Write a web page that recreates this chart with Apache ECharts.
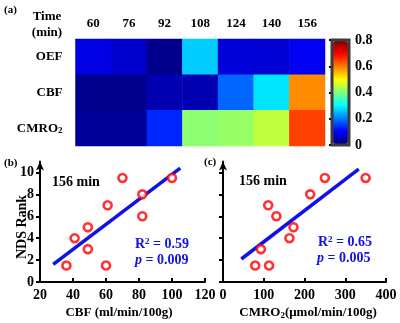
<!DOCTYPE html>
<html>
<head>
<meta charset="utf-8">
<script src="https://cdn.jsdelivr.net/npm/echarts@6/dist/echarts.min.js"></script>
<style>
  html, body { margin: 0; padding: 0; background: #fff; }
  #main { width: 400px; height: 323px; }
</style>
</head>
<body>
<div id="main"></div>
<script>
  // heatmap (a)
  var times = ['60', '76', '92', '108', '124', '140', '156'];
  var rowNames = ['OEF', 'CBF', 'CMRO2'];
  var oefVals = [0.08, 0.06, 0.01, 0.26, 0.07, 0.065, 0.09];
  var cbfVals = [0.01, 0.01, 0.04, 0.04, 0.18, 0.28, 0.59];
  var cmroVals = [0.02, 0.02, 0.13, 0.41, 0.42, 0.45, 0.65];

  // scatter (b) and (c)
  var ndsRank = [1.5, 4, 5, 3, 1.5, 7, 9.5, 8, 6, 9.5];
  var cbfPts = [36, 41, 49, 49, 60, 61, 70, 82, 82, 100];
  var ndsRankC = [1.5, 1.5, 3, 7, 6, 4, 5, 8, 9.5, 9.5];
  var cmroPts = [79, 113, 93, 111, 131, 163, 173, 214, 250, 350];
  var cbfFit = [[28, 1.6], [105, 10.4]];
  var cmroFit = [[45, 2.1], [333, 10.3]];
  var rankTicks = [0, 2, 4, 6, 8, 10];

  var jet = ['#00007f', '#0000ff', '#007fff', '#00ffff', '#7fff7f', '#ffff00', '#ff7f00', '#ff0000', '#7f0000'];
  var font = 'Liberation Serif';
  var blue = '#1010e8';

  var heatData = [];
  [oefVals, cbfVals, cmroVals].forEach(function (row, r) {
    row.forEach(function (v, c) {
      heatData.push([c, r, v]);
    });
  });

  function zip(xs, ys) {
    return xs.map(function (x, i) { return [x, ys[i]]; });
  }

  var labelStyle = { fontFamily: font, fontWeight: 'bold', fontSize: 14, color: '#000' };

  function scatterX(idx, min, max, interval) {
    return {
      gridIndex: idx, type: 'value', min: min, max: max, interval: interval,
      axisLine: { lineStyle: { color: '#000', width: 2 } },
      axisTick: { inside: true, length: 4, lineStyle: { color: '#000', width: 2 } },
      axisLabel: Object.assign({ margin: 6 }, labelStyle),
      splitLine: { show: false }
    };
  }
  function scatterY(idx, showLabels) {
    return {
      gridIndex: idx, type: 'value', min: 0, max: 11,
      axisLine: { show: true, symbol: ['none', 'arrow'], symbolSize: [6, 9], lineStyle: { color: '#000', width: 2 } },
      axisTick: { length: 4, customValues: rankTicks, lineStyle: { color: '#000', width: 2 } },
      axisLabel: Object.assign({ show: showLabels, margin: 6, customValues: rankTicks }, labelStyle),
      splitLine: { show: false }
    };
  }

  var myChart = echarts.init(document.getElementById('main'), null, { renderer: 'canvas' });
  myChart.setOption({
    animation: false,
    grid: [
      { left: 75.5, top: 39, width: 249.5, height: 107 },
      { left: 332, top: 40, width: 17, height: 105 },
      { left: 40, top: 161.5, width: 165, height: 120.5 },
      { left: 223, top: 161.5, width: 163, height: 120.5 }
    ],
    xAxis: [
      {
        gridIndex: 0, type: 'category', data: times, position: 'top',
        axisLine: { show: false }, axisTick: { show: false },
        axisLabel: { margin: 9, fontFamily: font, fontWeight: 'bold', fontSize: 13, color: '#000' }
      },
      { gridIndex: 1, type: 'value', show: false },
      scatterX(2, 20, 120, 20),
      scatterX(3, 0, 400, 100)
    ],
    yAxis: [
      {
        gridIndex: 0, type: 'category', data: rowNames, inverse: true,
        axisLine: { show: false }, axisTick: { show: false },
        axisLabel: {
          margin: 13, fontFamily: font, fontWeight: 'bold', fontSize: 13, color: '#000',
          formatter: function (v) { return v === 'CMRO2' ? 'CMRO{s|2}' : v; },
          rich: { s: { fontFamily: font, fontWeight: 'bold', fontSize: 9, verticalAlign: 'bottom', padding: [6, 0, 0, 0] } }
        }
      },
      {
        gridIndex: 1, type: 'value', min: 0, max: 0.8, interval: 0.2, position: 'right',
        axisLine: { show: false },
        axisTick: { show: true, inside: true, length: 3, lineStyle: { color: '#000', width: 2 } },
        axisLabel: Object.assign({ margin: 6 }, labelStyle),
        splitLine: { show: false }
      },
      scatterY(2, true),
      scatterY(3, false)
    ],
    visualMap: {
      type: 'continuous', min: 0, max: 0.8, seriesIndex: 0, calculable: false,
      orient: 'vertical', left: 333, top: 41, itemWidth: 15, itemHeight: 103, padding: 0,
      inRange: { color: jet }
    },
    series: [
      {
        type: 'heatmap', xAxisIndex: 0, yAxisIndex: 0, data: heatData,
        emphasis: { disabled: true }
      },
      {
        type: 'line', xAxisIndex: 2, yAxisIndex: 2, data: cbfFit, showSymbol: false,
        lineStyle: { color: blue, width: 3.5 }, z: 2
      },
      {
        type: 'scatter', xAxisIndex: 2, yAxisIndex: 2, data: zip(cbfPts, ndsRank),
        symbolSize: 8, itemStyle: { color: '#fff', borderColor: '#f00', borderWidth: 2.6 }, z: 3
      },
      {
        type: 'line', xAxisIndex: 3, yAxisIndex: 3, data: cmroFit, showSymbol: false,
        lineStyle: { color: blue, width: 3.5 }, z: 2
      },
      {
        type: 'scatter', xAxisIndex: 3, yAxisIndex: 3, data: zip(cmroPts, ndsRankC),
        symbolSize: 8, itemStyle: { color: '#fff', borderColor: '#f00', borderWidth: 2.6 }, z: 3
      }
    ],
    graphic: [
      { type: 'rect', shape: { x: 332, y: 40, width: 17, height: 105 }, style: { fill: null, stroke: '#3c3c3c', lineWidth: 3 }, z: 10 },
      { type: 'text', x: 4, y: 5, style: { text: '(a)', font: 'bold 11px ' + font, fill: '#000' } },
      { type: 'text', x: 47, y: 9, style: { text: 'Time\n(min)', font: 'bold 13px ' + font, fill: '#000', align: 'center', lineHeight: 16 } },
      { type: 'text', x: 4, y: 158, style: { text: '(b)', font: 'bold 11px ' + font, fill: '#000' } },
      { type: 'text', x: 204, y: 157, style: { text: '(c)', font: 'bold 11px ' + font, fill: '#000' } },
      { type: 'text', x: 52, y: 175, style: { text: '156 min', font: 'bold 14px ' + font, fill: '#000' } },
      { type: 'text', x: 239, y: 174, style: { text: '156 min', font: 'bold 14px ' + font, fill: '#000' } },
      {
        type: 'text', x: 22, y: 227, rotation: Math.PI / 2,
        style: { text: 'NDS Rank', font: 'bold 14px ' + font, fill: '#000', align: 'center', verticalAlign: 'middle' }
      },
      { type: 'text', x: 119, y: 313, style: { text: 'CBF (ml/min/100g)', font: 'bold 13px ' + font, fill: '#000', align: 'center', verticalAlign: 'middle' } },
      {
        type: 'text', x: 308, y: 313,
        style: {
          text: 'CMRO{s|2}(μmol/min/100g)', font: 'bold 13px ' + font, fill: '#000', align: 'center', verticalAlign: 'middle',
          rich: { s: { font: 'bold 9px ' + font, fill: '#000', padding: [6, 0, 0, 0] } }
        }
      },
      {
        type: 'text', x: 135, y: 237,
        style: { text: 'R{s|2} = 0.59', font: 'bold 14px ' + font, fill: blue, rich: { s: { font: 'bold 9px ' + font, fill: blue, padding: [0, 0, 6, 0] } } }
      },
      {
        type: 'text', x: 135, y: 253,
        style: { text: '{i|p} = 0.009', font: 'bold 14px ' + font, fill: blue, rich: { i: { font: 'italic bold 14px ' + font, fill: blue } } }
      },
      {
        type: 'text', x: 318, y: 235,
        style: { text: 'R{s|2} = 0.65', font: 'bold 14px ' + font, fill: blue, rich: { s: { font: 'bold 9px ' + font, fill: blue, padding: [0, 0, 6, 0] } } }
      },
      {
        type: 'text', x: 317, y: 251,
        style: { text: '{i|p} = 0.005', font: 'bold 14px ' + font, fill: blue, rich: { i: { font: 'italic bold 14px ' + font, fill: blue } } }
      }
    ]
  });
</script>
</body>
</html>
